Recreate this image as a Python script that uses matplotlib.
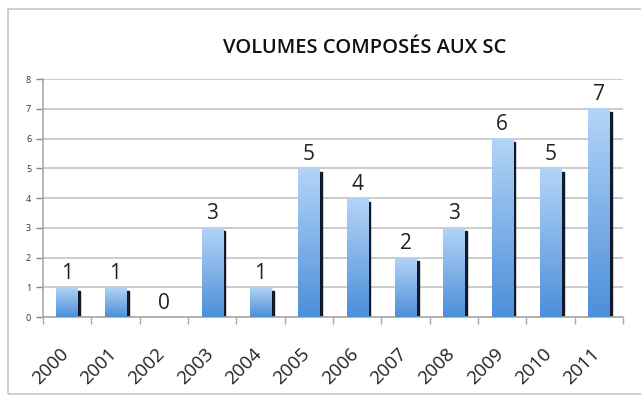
import numpy as np
import matplotlib
matplotlib.use("Agg")
from matplotlib import pyplot as plt
from matplotlib.patches import Rectangle
from matplotlib.colors import LinearSegmentedColormap
from matplotlib.transforms import ScaledTranslation

years = ['2000', '2001', '2002', '2003', '2004', '2005',
         '2006', '2007', '2008', '2009', '2010', '2011']
volumes = [1, 1, 0, 3, 1, 5, 4, 2, 3, 6, 5, 7]

plt.rcParams['font.family'] = ['Open Sans', 'DejaVu Sans']

fig = plt.figure(figsize=(6.41, 4.04), dpi=100)
fig.patch.set_facecolor('white')
# outer chart border
fig.add_artist(Rectangle((8/641, 10/404), 640/641, 385/404, transform=fig.transFigure,
                         fill=False, edgecolor='#c8c8c8', linewidth=1.2))

ax = fig.add_axes([0.067, 0.215, 0.905, 0.589])
x = np.arange(len(years))
w = 0.44

cmap = LinearSegmentedColormap.from_list('blu', ['#4d8fd9', '#b3d4f7'])
grad = np.linspace(0, 1, 100).reshape(-1, 1)
for xi, v in zip(x, volumes):
    if v == 0:
        continue
    # dark shadow on the right side
    ax.add_patch(Rectangle((xi + w/2 - 0.02, 0), 0.07, v - 0.12, color='#111a2a', zorder=2))
    ax.imshow(grad, cmap=cmap, origin='lower', aspect='auto',
              extent=(xi - w/2, xi + w/2, 0, v), zorder=3)
    ax.text(xi, v + 0.12, str(v), ha='center', va='bottom', fontsize=15, color='#222222')
ax.text(2, 0.12, '0', ha='center', va='bottom', fontsize=15, color='#222222')

ax.set_xlim(-0.5, len(years) - 0.5)
ax.set_ylim(0, 8)
ax.set_yticks(range(0, 9))
ax.tick_params(axis='y', labelsize=6.5, colors='#888888', labelcolor='#333333', length=5, width=1)
ax.yaxis.grid(True, color='#c4c4c4', linewidth=1.2)
ax.set_axisbelow(True)
ax.set_xticks(x)
ax.set_xticklabels(years, rotation=45, ha='right', rotation_mode='anchor', fontsize=13.5, color='#222222')
ax.tick_params(axis='x', length=0, pad=20)
shift = ScaledTranslation(-0.08, 0, fig.dpi_scale_trans)
for lab in ax.get_xticklabels():
    lab.set_transform(lab.get_transform() + shift)
ax.set_xticks(np.arange(-0.5, len(years)), minor=True)
ax.tick_params(axis='x', which='minor', length=5, width=1, colors='#aaaaaa')
for s in ['top', 'right']:
    ax.spines[s].set_visible(False)
ax.spines['left'].set_color('#aaaaaa')
ax.spines['bottom'].set_color('#aaaaaa')
ax.spines['left'].set_linewidth(1.2)
ax.spines['bottom'].set_linewidth(1.2)

fig.text(0.569, 0.881, 'VOLUMES COMPOSÉS AUX SC', ha='center', va='center',
         fontsize=14.5, fontweight='semibold', color='#111111')

fig.savefig('out.png', dpi=100)
